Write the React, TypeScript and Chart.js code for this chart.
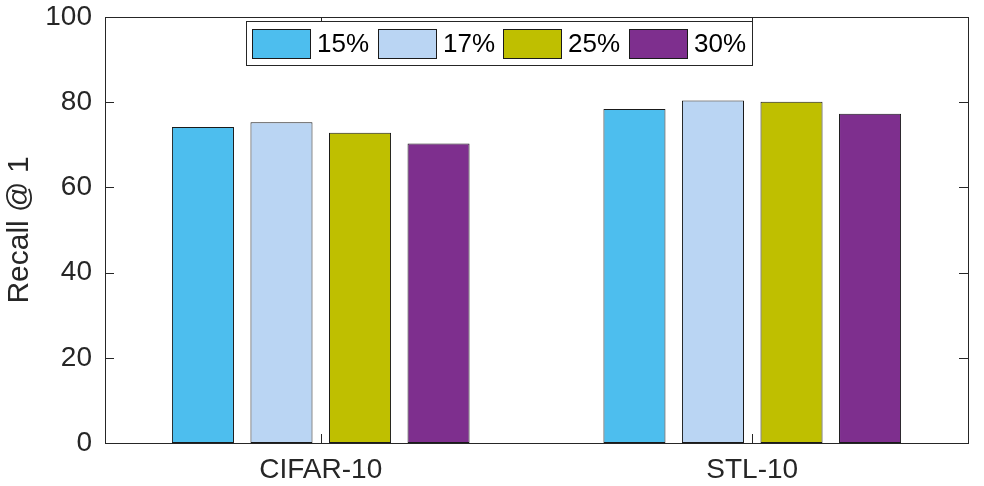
import React, { useEffect, useRef } from "react";
import { Chart, registerables } from "chart.js";

Chart.register(...registerables);

const categories = ["CIFAR-10", "STL-10"];
const seriesLabels = ["15%", "17%", "25%", "30%"];
const values15 = [74.2, 78.4];
const values17 = [75.3, 80.4];
const values25 = [72.8, 80.1];
const values30 = [70.3, 77.3];
const seriesColors = ["#4DBEEE", "#BAD5F3", "#BFBF00", "#7E2F8E"];
const yTicks = [0, 20, 40, 60, 80, 100];
const yTitle = "Recall @ 1";

const FONT = "'Liberation Sans', Arial, Helvetica, sans-serif";
const INK = "#262626";

const framePlugin = {
  id: "matlabFrame",
  afterDraw(chart: any) {
    const { ctx, chartArea: a, scales } = chart;
    ctx.save();
    ctx.strokeStyle = INK;
    ctx.lineWidth = 1;
    ctx.strokeRect(Math.round(a.left) + 0.5, Math.round(a.top) + 0.5, Math.round(a.right - a.left), Math.round(a.bottom - a.top));
    const tl = 9;
    ctx.beginPath();
    for (const v of yTicks) {
      const y = Math.round(scales.y.getPixelForValue(v)) + 0.5;
      ctx.moveTo(a.left, y);
      ctx.lineTo(a.left + tl, y);
      ctx.moveTo(a.right, y);
      ctx.lineTo(a.right - tl, y);
    }
    for (let i = 0; i < categories.length; i++) {
      const x = Math.round(scales.x.getPixelForTick(i)) + 0.5;
      ctx.moveTo(x, a.bottom);
      ctx.lineTo(x, a.bottom - tl);
      ctx.moveTo(x, a.top);
      ctx.lineTo(x, a.top + tl);
    }
    ctx.stroke();

    // legend
    const lx = Math.round(a.left) + 141;
    const ly = Math.round(a.top) + 4;
    const lw = 506;
    const lh = 44;
    ctx.fillStyle = "#ffffff";
    ctx.fillRect(lx, ly, lw, lh);
    ctx.strokeStyle = INK;
    ctx.strokeRect(lx + 0.5, ly + 0.5, lw, lh);
    ctx.font = `26px ${FONT}`;
    ctx.textBaseline = "middle";
    ctx.textAlign = "left";
    const datasets = chart.data.datasets;
    for (let i = 0; i < datasets.length; i++) {
      const sx = lx + 6 + i * 125.5;
      const sy = ly + 7.5;
      ctx.fillStyle = datasets[i].backgroundColor;
      ctx.fillRect(Math.round(sx), Math.round(sy), 58, 29);
      ctx.strokeStyle = "#1a1a1a";
      ctx.strokeRect(Math.round(sx) + 0.5, Math.round(sy) + 0.5, 58, 29);
      ctx.fillStyle = "#000000";
      ctx.fillText(datasets[i].label, Math.round(sx) + 65, sy + 16);
    }
    ctx.restore();
  },
};

export default function App() {
  const canvasRef = useRef<HTMLCanvasElement | null>(null);

  useEffect(() => {
    const canvas = canvasRef.current;
    if (!canvas) return;
    const allValues = [values15, values17, values25, values30];
    const chart = new Chart(canvas, {
      type: "bar",
      data: {
        labels: categories,
        datasets: seriesLabels.map((label, i) => ({
          label,
          data: allValues[i],
          backgroundColor: seriesColors[i],
          borderColor: "#1a1a1a",
          borderWidth: 1,
          borderSkipped: false,
          categoryPercentage: 0.728,
          barPercentage: 0.79,
        })),
      },
      options: {
        animation: false,
        responsive: false,
        maintainAspectRatio: false,
        layout: { padding: { top: 0, right: 16, left: 0, bottom: 0 } },
        plugins: {
          legend: { display: false },
          tooltip: { enabled: false },
        },
        scales: {
          x: {
            grid: { display: false, drawTicks: false },
            border: { display: false },
            ticks: {
              color: INK,
              font: { family: FONT, size: 28 },
              padding: 10,
            },
            afterFit: (scale: any) => {
              scale.height = 43;
              scale.paddingLeft = 0;
              scale.paddingRight = 0;
            },
          },
          y: {
            min: 0,
            max: 100,
            grid: { display: false, drawTicks: false },
            border: { display: false },
            ticks: {
              stepSize: 20,
              color: INK,
              font: { family: FONT, size: 28 },
              padding: 13,
            },
            title: {
              display: true,
              text: yTitle,
              color: INK,
              font: { family: FONT, size: 30 },
              padding: { top: 2, bottom: 0 },
            },
            afterFit: (scale: any) => {
              scale.width = 105;
              scale.paddingTop = 17;
              scale.paddingBottom = 0;
            },
          },
        },
      },
      plugins: [framePlugin],
    });
    return () => chart.destroy();
  }, []);

  return (
    <div style={{ position: "fixed", left: 0, top: 0, width: 984, height: 486, background: "#fff" }}>
      <canvas ref={canvasRef} width={984} height={486} style={{ width: 984, height: 486 }} />
    </div>
  );
}
